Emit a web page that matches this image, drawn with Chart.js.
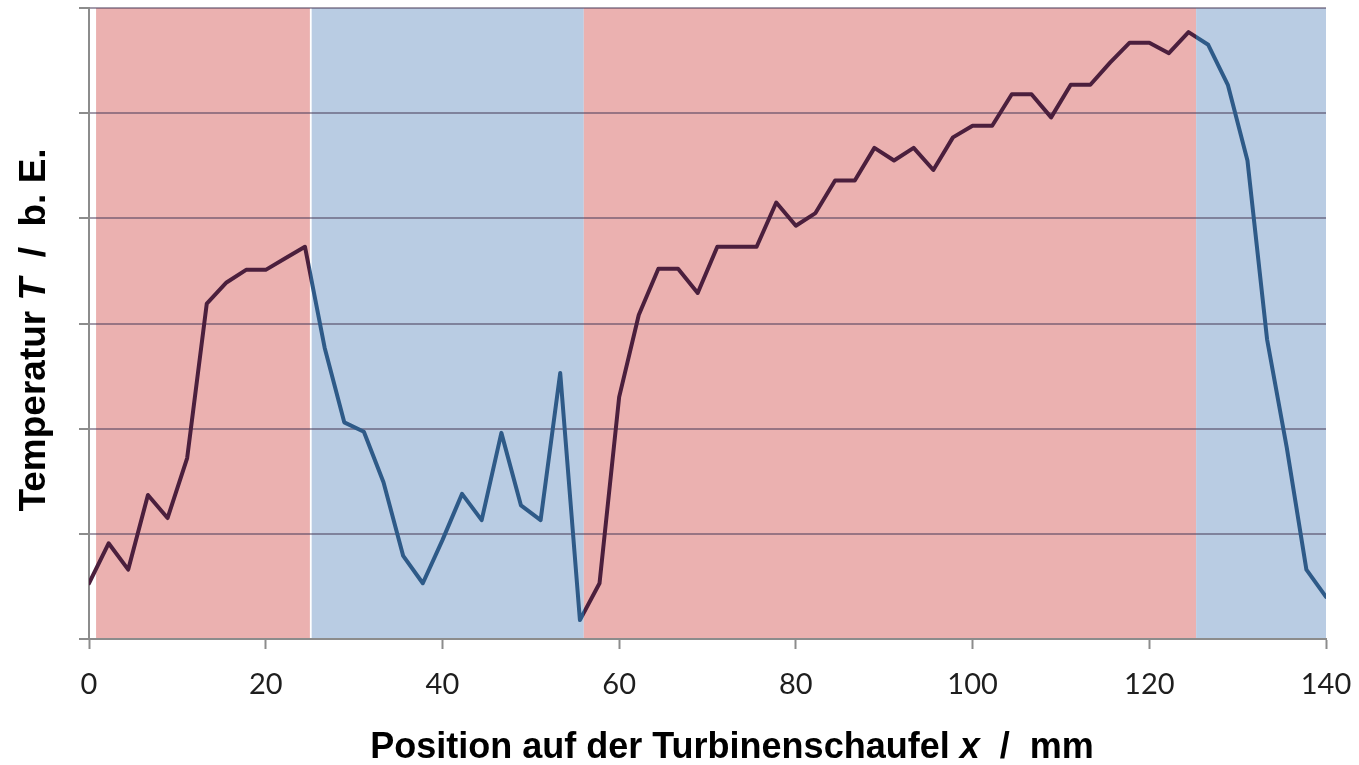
<!DOCTYPE html>
<html>
<head>
<meta charset="utf-8">
<script src="https://cdn.jsdelivr.net/npm/chart.js@4.4.1/dist/chart.umd.min.js"></script>
<style>
  html, body { margin: 0; padding: 0; background: #ffffff; }
  #wrap { width: 1359px; height: 765px; position: relative; }
</style>
</head>
<body>
<div id="wrap"><canvas id="tempChart" width="1359" height="765"></canvas></div>
<script>
// ======================================
// Data - temperature profile along the blade
// ======================================
const positions = [
    0, 2.22, 4.44, 6.67, 8.89, 11.11, 13.33, 15.56, 17.78, 20, 22.22, 24.44,
    26.67, 28.89, 31.11, 33.33, 35.56, 37.78, 40, 42.22, 44.44, 46.67, 48.89, 51.11,
    53.33, 55.56, 57.78, 60, 62.22, 64.44, 66.67, 68.89, 71.11, 73.33, 75.56, 77.78,
    80, 82.22, 84.44, 86.67, 88.89, 91.11, 93.33, 95.56, 97.78, 100, 102.22, 104.44,
    106.67, 108.89, 111.11, 113.33, 115.56, 117.78, 120, 122.22, 124.44, 126.67, 128.89, 131.11,
    133.33, 135.56, 137.78, 140
];

const temperatures = [
    0.53, 0.91, 0.66, 1.37, 1.15, 1.72, 3.19, 3.39, 3.51, 3.51, 3.62, 3.73,
    2.77, 2.06, 1.97, 1.49, 0.79, 0.53, 0.94, 1.38, 1.13, 1.96, 1.27, 1.13,
    2.53, 0.18, 0.53, 2.30, 3.08, 3.52, 3.52, 3.29, 3.73, 3.73, 3.73, 4.15,
    3.93, 4.05, 4.36, 4.36, 4.67, 4.55, 4.67, 4.46, 4.77, 4.88, 4.88, 5.18,
    5.18, 4.96, 5.27, 5.27, 5.48, 5.67, 5.67, 5.57, 5.77, 5.65, 5.27, 4.55,
    2.85, 1.82, 0.66, 0.40
];

const xTicks = [0, 20, 40, 60, 80, 100, 120, 140];

// hot (red) / cold (blue) zones along the blade, in mm
const zoneFrom = [0.8, 25.2, 56, 125.3];
const zoneTo   = [25, 56, 125.3, 140];
const zoneKind = ['hot', 'cold', 'hot', 'cold'];

const COLORS = {
    hotBand: '#ebb1b0',
    coldBand: '#b9cce3',
    hotLine: '#4b1f3d',
    coldLine: '#2e5a88',
    axis: '#8c8c8c',
    grid: 'rgba(70, 55, 85, 0.5)',
    text: '#1e1e1e'
};

// ======================================
// Plugins
// ======================================
const zonePlugin = {
    id: 'zones',
    beforeDraw(chart) {
        const { ctx, chartArea, scales } = chart;
        ctx.save();
        zoneFrom.forEach((from, i) => {
            const x0 = scales.x.getPixelForValue(from);
            const x1 = scales.x.getPixelForValue(zoneTo[i]);
            ctx.fillStyle = zoneKind[i] === 'hot' ? COLORS.hotBand : COLORS.coldBand;
            ctx.fillRect(x0, chartArea.top, x1 - x0, chartArea.bottom - chartArea.top - 1);
        });
        ctx.restore();
    }
};

function drawParts(ctx, parts, size, cx, baseline) {
    const fontOf = p => (p.italic ? 'italic ' : '') + 'bold ' + size + 'px "Liberation Sans", Arial, sans-serif';
    let total = 0;
    parts.forEach(p => { ctx.font = fontOf(p); total += ctx.measureText(p.text).width; });
    let x = cx - total / 2;
    ctx.textBaseline = 'alphabetic';
    ctx.textAlign = 'left';
    parts.forEach(p => {
        ctx.font = fontOf(p);
        ctx.fillText(p.text, x, baseline);
        x += ctx.measureText(p.text).width;
    });
}

const titlePlugin = {
    id: 'richTitles',
    afterDraw(chart) {
        const { ctx } = chart;
        ctx.save();
        ctx.fillStyle = '#000';
        drawParts(ctx, [
            { text: 'Position auf der Turbinenschaufel ' },
            { text: 'x', italic: true },
            { text: '  /  mm' }
        ], 36, 732, 758);

        ctx.translate(45, 330);
        ctx.rotate(-Math.PI / 2);
        drawParts(ctx, [
            { text: 'Temperatur ' },
            { text: 'T', italic: true },
            { text: '  /  b. E.' }
        ], 37, 0, 0);
        ctx.restore();
    }
};

// line colour switches at the zone borders
function zoneGradient(context) {
    const chart = context.chart;
    const { ctx, chartArea, scales } = chart;
    if (!chartArea) return COLORS.hotLine;
    const left = chartArea.left, right = chartArea.right;
    const g = ctx.createLinearGradient(left, 0, right, 0);
    const frac = v => (scales.x.getPixelForValue(v) - left) / (right - left);
    g.addColorStop(0, COLORS.hotLine);
    for (let i = 0; i < zoneFrom.length; i++) {
        const c = zoneKind[i] === 'hot' ? COLORS.hotLine : COLORS.coldLine;
        const start = i === 0 ? 0 : frac(zoneTo[i - 1]);
        const end = frac(zoneTo[i]);
        g.addColorStop(Math.min(Math.max(start, 0), 1), c);
        g.addColorStop(Math.min(Math.max(end, 0), 1), c);
    }
    return g;
}

// ======================================
// Chart
// ======================================
function createTemperatureChart() {
    const ctx = document.getElementById('tempChart');

    new Chart(ctx, {
        type: 'line',
        data: {
            datasets: [{
                label: 'Temperatur',
                data: positions.map((x, i) => ({ x: x, y: temperatures[i] })),
                borderColor: zoneGradient,
                borderWidth: 4,
                borderJoinStyle: 'round',
                borderCapStyle: 'round',
                pointRadius: 0,
                tension: 0,
                fill: false
            }]
        },
        options: {
            responsive: false,
            animation: false,
            layout: { padding: { top: 8, right: 33, left: 0, bottom: 0 } },
            plugins: {
                legend: { display: false },
                title: { display: false },
                tooltip: { enabled: false }
            },
            scales: {
                x: {
                    type: 'linear',
                    min: 0,
                    max: 140,
                    afterBuildTicks: scale => { scale.ticks = xTicks.map(v => ({ value: v })); },
                    afterFit: scale => {
                        scale.height = 126;
                        scale.paddingLeft = 0;
                        scale.paddingRight = 0;
                    },
                    grid: {
                        drawOnChartArea: false,
                        tickLength: 10,
                        tickColor: COLORS.axis,
                        tickWidth: 2
                    },
                    border: { color: COLORS.axis, width: 2 },
                    ticks: {
                        color: COLORS.text,
                        padding: 18,
                        maxRotation: 0,
                        font: { family: 'Lato', size: 29 }
                    }
                },
                y: {
                    min: 0,
                    max: 6,
                    afterFit: scale => { scale.width = 89; },
                    ticks: { stepSize: 1, display: false },
                    grid: {
                        color: COLORS.grid,
                        lineWidth: 2,
                        tickLength: 10,
                        tickColor: COLORS.axis,
                        tickWidth: 2
                    },
                    border: { color: COLORS.axis, width: 2 }
                }
            }
        },
        plugins: [zonePlugin, titlePlugin]
    });
}

createTemperatureChart();
</script>
</body>
</html>
